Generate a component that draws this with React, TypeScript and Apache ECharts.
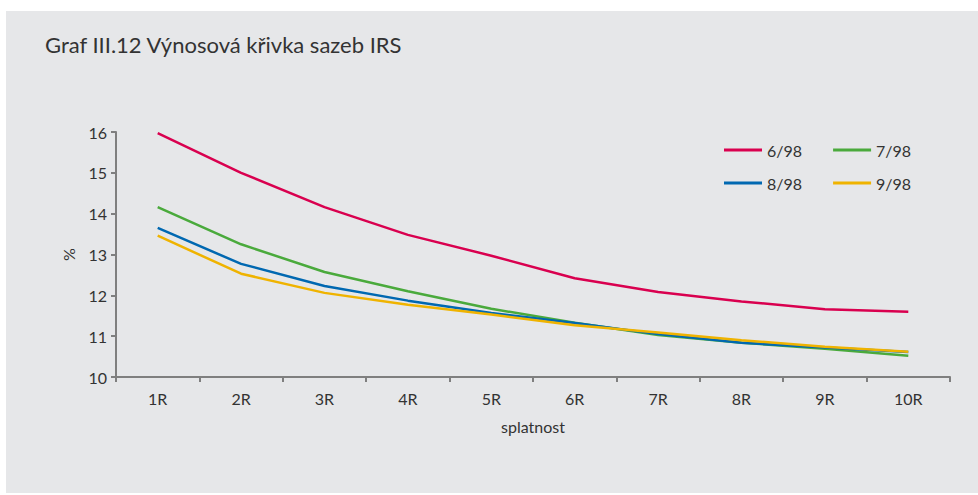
import React, { useEffect, useRef } from "react";
import * as echarts from "echarts";

const categories = ["1R", "2R", "3R", "4R", "5R", "6R", "7R", "8R", "9R", "10R"];
const s698 = [15.97, 15.0, 14.16, 13.48, 12.97, 12.42, 12.08, 11.85, 11.66, 11.6];
const s798 = [14.16, 13.25, 12.57, 12.1, 11.67, 11.33, 11.03, 10.84, 10.69, 10.52];
const s898 = [13.65, 12.77, 12.23, 11.87, 11.57, 11.32, 11.05, 10.84, 10.72, 10.61];
const s998 = [13.46, 12.53, 12.06, 11.77, 11.53, 11.27, 11.09, 10.9, 10.74, 10.62];

const FONT = "Lato, 'Open Sans', sans-serif";
const TXT = "#333333";
const AX = "#7f7f7f";

export default function App() {
  const ref = useRef<HTMLDivElement>(null);
  useEffect(() => {
    document.body.style.margin = "0";
    const chart = echarts.init(ref.current!, null, { renderer: "svg" });
    const mk = (name: string, data: number[], color: string) => ({
      name,
      type: "line",
      data,
      symbol: "none",
      smooth: false,
      lineStyle: { color, width: 2.5 },
      itemStyle: { color },
    });
    const legendCommon = {
      icon: "rect",
      itemWidth: 38,
      itemHeight: 3,
      itemGap: 31,
      textStyle: { fontFamily: FONT, fontSize: 16, color: TXT, padding: [0, 0, 0, 0] },
      left: 724,
      padding: 0,
    };
    chart.setOption({
      animation: false,
      backgroundColor: "#ffffff",
      graphic: [
        {
          type: "rect",
          shape: { x: 6, y: 11, width: 972, height: 482 },
          style: { fill: "#e6e7e9" },
          z: -10,
          silent: true,
        },
        {
          type: "text",
          left: 45,
          top: 33,
          style: { text: "Graf III.12 Výnosová křivka sazeb IRS", fontFamily: FONT, fontSize: 22, fill: TXT },
        },
      ],
      legend: [
        { ...legendCommon, top: 142, data: ["6/98", "7/98"] },
        { ...legendCommon, top: 175, data: ["8/98", "9/98"] },
      ],
      grid: { left: 116, right: 28, top: 132, bottom: 118, containLabel: false },
      xAxis: {
        type: "category",
        data: categories,
        boundaryGap: true,
        name: "splatnost",
        nameLocation: "middle",
        nameGap: 41,
        nameTextStyle: { fontFamily: FONT, fontSize: 16, color: TXT },
        axisLine: { lineStyle: { color: AX, width: 2 } },
        axisTick: { show: true, length: 5, lineStyle: { color: AX, width: 2 } },
        axisLabel: { fontFamily: FONT, fontSize: 16, color: TXT, margin: 13 },
        splitLine: { show: false },
      },
      yAxis: {
        type: "value",
        min: 10,
        max: 16,
        interval: 1,
        name: "%",
        nameLocation: "middle",
        nameGap: 40,
        nameRotate: 90,
        nameTextStyle: { fontFamily: FONT, fontSize: 16, color: TXT },
        axisLine: { show: true, lineStyle: { color: AX, width: 2 } },
        axisTick: { show: true, length: 5, lineStyle: { color: AX, width: 2 } },
        axisLabel: { fontFamily: FONT, fontSize: 16, color: TXT, margin: 9 },
        splitLine: { show: false },
      },
      series: [
        mk("6/98", s698, "#d9004f"),
        mk("7/98", s798, "#4aaa3c"),
        mk("8/98", s898, "#0068b1"),
        mk("9/98", s998, "#efb300"),
      ],
    });
    return () => chart.dispose();
  }, []);
  return <div ref={ref} style={{ width: 978, height: 495 }} />;
}
